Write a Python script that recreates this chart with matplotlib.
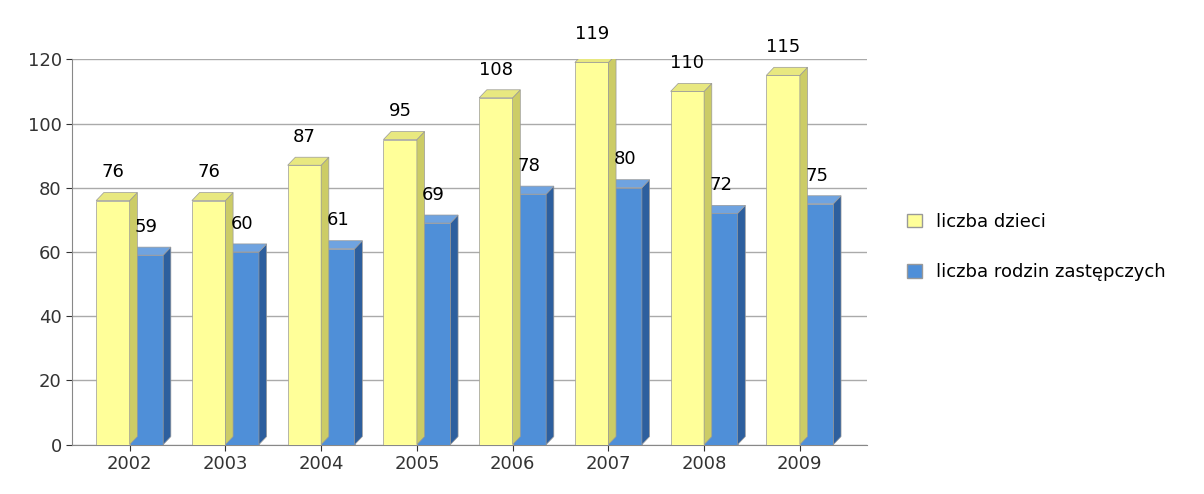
import matplotlib.pyplot as plt
import numpy as np
from matplotlib.patches import Polygon

years = ['2002', '2003', '2004', '2005', '2006', '2007', '2008', '2009']
dzieci = [76, 76, 87, 95, 108, 119, 110, 115]
rodziny = [59, 60, 61, 69, 78, 80, 72, 75]

fig = plt.figure(figsize=(12.04, 4.94), dpi=100)
ax = fig.add_axes([0.06, 0.1, 0.66, 0.78])

x = np.arange(len(years))
w = 0.35
dx, dy = 0.08, 2.5  # pseudo depth of the bars


def bar3d(ax, xs, vals, color, side, top):
    for xi, v in zip(xs, vals):
        ax.add_patch(plt.Rectangle((xi - w / 2, 0), w, v, facecolor=color,
                                   edgecolor='#999999', lw=0.5, zorder=3))
        ax.add_patch(Polygon([(xi + w / 2, 0), (xi + w / 2 + dx, dy),
                              (xi + w / 2 + dx, v + dy), (xi + w / 2, v)],
                             facecolor=side, edgecolor='#999999', lw=0.5, zorder=3))
        ax.add_patch(Polygon([(xi - w / 2, v), (xi - w / 2 + dx, v + dy),
                              (xi + w / 2 + dx, v + dy), (xi + w / 2, v)],
                             facecolor=top, edgecolor='#999999', lw=0.5, zorder=3))


bar3d(ax, x + w / 2, rodziny, '#4f8fd8', '#2d5f9e', '#6fa3e0')
bar3d(ax, x - w / 2, dzieci, '#ffff99', '#cccc66', '#e8e880')

for xi, v in zip(x - w / 2, dzieci):
    ax.text(xi, v + 6, str(v), ha='center', va='bottom', fontsize=13)
for xi, v in zip(x + w / 2, rodziny):
    ax.text(xi, v + 6, str(v), ha='center', va='bottom', fontsize=13)

ax.set_xlim(-0.6, len(years) - 0.3)
ax.set_ylim(0, 120)
ax.set_yticks(range(0, 121, 20))
ax.set_xticks(x)
ax.set_xticklabels(years)
ax.tick_params(labelsize=13, length=4, colors='#333333')
ax.yaxis.grid(True, color='#aaaaaa', lw=1, zorder=0)
ax.set_axisbelow(True)
for s in ['top', 'right']:
    ax.spines[s].set_visible(False)
for s in ['left', 'bottom']:
    ax.spines[s].set_color('#888888')

handles = [plt.Rectangle((0, 0), 1, 1, facecolor='#ffff99', edgecolor='#999999'),
           plt.Rectangle((0, 0), 1, 1, facecolor='#4f8fd8', edgecolor='#999999')]
fig.legend(handles, ['liczba dzieci', 'liczba rodzin zastępczych'],
           loc='center left', bbox_to_anchor=(0.74, 0.5), frameon=False,
           fontsize=13, labelspacing=1.8, handlelength=0.8, handleheight=0.8)

fig.savefig('out.png', dpi=100)
